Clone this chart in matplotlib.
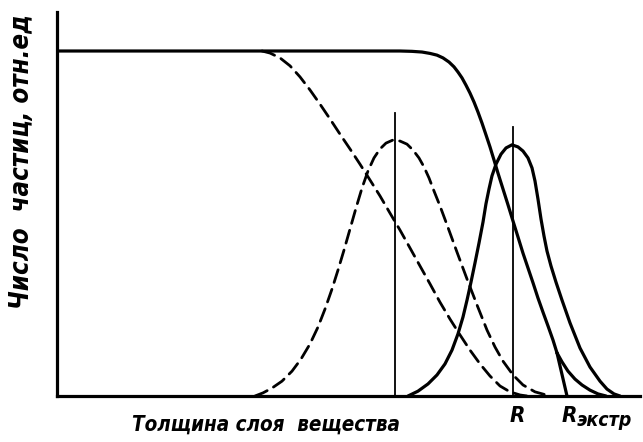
import matplotlib
matplotlib.use("Agg")
import matplotlib.pyplot as plt

# layer thickness (arb. units, 0..100 across the axis) vs relative particle number

# monoenergetic beam: plateau, then fall-off near the end of range
solid_fall_x = [0.0, 58.83, 60.89, 62.61, 63.98, 65.18, 66.21, 67.24, 68.10, 68.78, 69.47,
                70.15, 70.84, 71.53, 72.21, 72.90, 73.58, 74.27, 74.96, 75.64, 76.50, 77.36,
                78.22, 79.07, 79.93, 80.79, 81.65, 82.50, 83.36, 84.22, 85.08, 85.76]
solid_fall_y = [1.0, 1.0, 0.999, 0.997, 0.993, 0.988, 0.980, 0.968, 0.954, 0.939, 0.922,
                0.901, 0.878, 0.852, 0.823, 0.791, 0.757, 0.722, 0.684, 0.646, 0.600, 0.554,
                0.507, 0.461, 0.414, 0.371, 0.328, 0.284, 0.243, 0.203, 0.162, 0.125]

# tail of the fall-off beyond the kink
solid_tail_x = [85.76, 86.62, 87.65, 88.85, 90.05, 91.42, 92.80, 94.17]
solid_tail_y = [0.125, 0.099, 0.072, 0.049, 0.032, 0.017, 0.006, 0.0]

# linear extrapolation of the fall-off down to R_extr
extrap_x = [85.76, 87.48]
extrap_y = [0.125, 0.0]

# range distribution, peak at R
solid_bell_x = [60.21, 61.92, 63.64, 65.18, 66.55, 67.75, 68.78, 69.64, 70.33, 71.01, 71.70,
                72.38, 73.07, 73.58, 74.10, 74.61, 75.30, 76.16, 77.02, 78.04, 79.07, 79.93,
                80.79, 81.48, 81.99, 82.50, 83.02, 83.53, 84.05, 84.73, 85.59, 86.62, 87.99,
                89.71, 91.42, 93.14, 94.34, 95.54, 96.57]
solid_bell_y = [0.0, 0.014, 0.035, 0.061, 0.093, 0.133, 0.180, 0.229, 0.278, 0.330, 0.386,
                0.443, 0.504, 0.557, 0.600, 0.638, 0.672, 0.701, 0.719, 0.728, 0.722, 0.710,
                0.690, 0.661, 0.623, 0.571, 0.513, 0.464, 0.420, 0.377, 0.330, 0.278, 0.212,
                0.139, 0.084, 0.043, 0.020, 0.006, 0.0]

# dashed pair: the same, shifted to smaller thickness
dash_fall_x = [35.16, 36.54, 38.25, 39.97, 41.68, 43.40, 45.11, 46.83, 48.54, 50.26, 51.97,
               53.69, 55.40, 57.12, 58.83, 60.55, 62.26, 63.98, 65.69, 67.41, 69.13, 70.84,
               72.56, 74.27, 75.99, 77.70, 79.42, 80.62]
dash_fall_y = [1.0, 0.994, 0.980, 0.957, 0.925, 0.887, 0.846, 0.803, 0.759, 0.716, 0.672,
               0.626, 0.580, 0.530, 0.481, 0.429, 0.377, 0.325, 0.272, 0.223, 0.177, 0.133,
               0.093, 0.058, 0.029, 0.012, 0.003, 0.0]

dash_bell_x = [33.96, 35.33, 36.88, 38.59, 40.31, 41.85, 43.40, 44.77, 45.97, 47.17, 48.20,
               49.23, 50.26, 51.29, 52.32, 53.34, 54.37, 55.40, 56.43, 57.63, 58.83, 60.03,
               61.06, 62.09, 62.95, 63.81, 64.67, 65.69, 66.90, 68.61, 70.33, 72.04, 73.76,
               75.13, 76.50, 78.22, 79.93, 81.99, 84.56]
dash_bell_y = [0.0, 0.009, 0.023, 0.043, 0.072, 0.107, 0.151, 0.200, 0.252, 0.310, 0.365,
               0.423, 0.484, 0.545, 0.603, 0.652, 0.690, 0.716, 0.733, 0.742, 0.739, 0.730,
               0.713, 0.690, 0.664, 0.632, 0.594, 0.551, 0.496, 0.417, 0.339, 0.264, 0.191,
               0.142, 0.101, 0.061, 0.032, 0.012, 0.0]

# vertical markers through the two peaks
peak_x = [58.0, 78.2]
peak_top = [0.820, 0.780]

fig = plt.figure(figsize=(6.43, 4.42), dpi=100)
ax = fig.add_axes([57 / 643, 46 / 442, 583 / 643, 384 / 442])
ax.set_xlim(0, 100)
ax.set_ylim(0, 384 / 345)

ink = "black"
thick = dict(color=ink, lw=2.3, solid_joinstyle="round", solid_capstyle="round")
ax.plot(solid_fall_x, solid_fall_y, **thick)
ax.plot(solid_tail_x, solid_tail_y, **thick)
ax.plot(extrap_x, extrap_y, **thick)
ax.plot(solid_bell_x, solid_bell_y, **thick)
dashed = dict(color=ink, lw=2.0, dashes=(4.8, 2.6), dash_capstyle="round")
ax.plot(dash_fall_x, dash_fall_y, **dashed)
ax.plot(dash_bell_x, dash_bell_y, **dashed)
for px, top in zip(peak_x, peak_top):
    ax.plot([px, px], [0, top], color=ink, lw=1.3)

for side in ("top", "right"):
    ax.spines[side].set_visible(False)
for side in ("left", "bottom"):
    ax.spines[side].set_linewidth(2.3)
ax.set_xticks([])
ax.set_yticks([])

font = dict(family="DejaVu Sans", fontstretch="condensed", style="oblique", weight="bold",
            color=ink)
fig.text(266 / 643, 1 - 425 / 442, "Толщина слоя  вещества", ha="center", va="center",
         fontsize=14.8, **font)
fig.text(22 / 643, 1 - 162 / 442, "Число  частиц, отн.ед", ha="center", va="center",
         rotation=90, fontsize=18.5, **font)
fig.text(517 / 643, 1 - 416 / 442, "R", ha="center", va="center", fontsize=16, **font)
fig.text(569 / 643, 1 - 416 / 442, "R", ha="center", va="center", fontsize=16, **font)
fig.text(577 / 643, 1 - 421 / 442, "экстр", ha="left", va="center", fontsize=14, **font)

fig.savefig("out.png", dpi=100)
